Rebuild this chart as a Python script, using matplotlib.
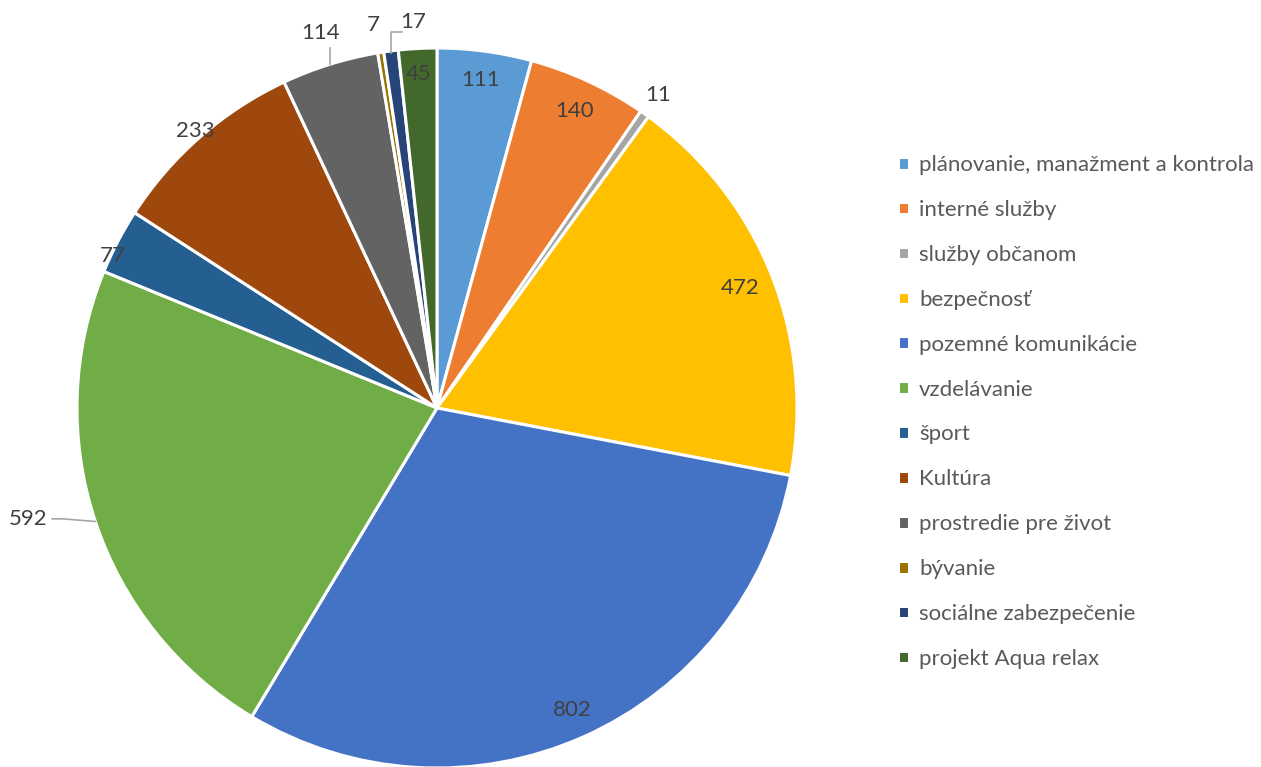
import numpy as np
import matplotlib
matplotlib.use("Agg")
import matplotlib.pyplot as plt

plt.rcParams['font.family'] = ['Lato', 'DejaVu Sans']

# data #
categories = ["plánovanie, manažment a kontrola", "interné služby", "služby občanom",
              "bezpečnosť", "pozemné komunikácie", "vzdelávanie", "šport", "Kultúra",
              "prostredie pre život", "bývanie", "sociálne zabezpečenie", "projekt Aqua relax"]
values = [111, 140, 11, 472, 802, 592, 77, 233, 114, 7, 17, 45]
colors = ["#5B9BD5", "#ED7D31", "#A5A5A5", "#FFC000", "#4472C4", "#70AD47",
          "#255E91", "#9E480E", "#636363", "#997300", "#264478", "#43682B"]

# label radius (fraction of pie radius) and angle tweak, picked by eye
label_r = [0.92, 0.91, 1.065, 0.905, 0.92, 1.2, 0.995, 1.02, 1.09, 1.08, 1.1, 0.93]
label_da = [0, 0, 0, 0, 0, 0, -2.4, 0, 0, -0.5, 0, 0]

FS = 16
lead = "#A6A6A6"

fig = plt.figure(figsize=(12.61, 7.67), dpi=100)
ax = fig.add_axes([77 / 1261, (767 - 408 - 360) / 767, 720 / 1261, 720 / 767])

wedges, _ = ax.pie(values, colors=colors, startangle=90, counterclock=False,
                   wedgeprops=dict(edgecolor="white", linewidth=2.2))
ax.set_xlim(-1, 1)
ax.set_ylim(-1, 1)
ax.set_aspect("equal")
ax.axis("off")

total = sum(values)
cum = np.cumsum([0] + values)
for i, v in enumerate(values):
    mid = np.deg2rad((cum[i] + v / 2) / total * 360 + label_da[i])
    dx, dy = np.sin(mid), np.cos(mid)
    r = label_r[i]
    if v == 592:
        # outside label with leader line
        ax.plot([dx, -1.039, -1.069], [dy, -0.308, -0.308], color=lead, lw=1.2, clip_on=False)
        ax.text(-1.083, -0.308, str(v), ha="right", va="center", fontsize=FS, color="#404040")
    elif v == 114:
        ax.plot([dx, dx], [dy, dy + 0.045], color=lead, lw=1.2, clip_on=False)
        ax.text(dx * r, dy * r, str(v), ha="center", va="center", fontsize=FS, color="#404040")
    elif v == 17:
        ax.plot([dx, dx, -0.097], [dy - 0.005, 1.044, 1.044], color=lead, lw=1.2, clip_on=False)
        ax.text(-0.067, 1.072, str(v), ha="center", va="center", fontsize=FS, color="#404040")
    else:
        ax.text(dx * r, dy * r, str(v), ha="center", va="center", fontsize=FS, color="#404040")

leg = fig.legend(wedges, categories, loc="upper left", bbox_to_anchor=(887 / 1261, 1 - 144 / 767),
                 frameon=False, fontsize=FS, labelcolor="#595959", handlelength=0.5,
                 handleheight=0.5, handletextpad=0.45, labelspacing=1.12, borderpad=0)

fig.savefig("out.png", dpi=100)
